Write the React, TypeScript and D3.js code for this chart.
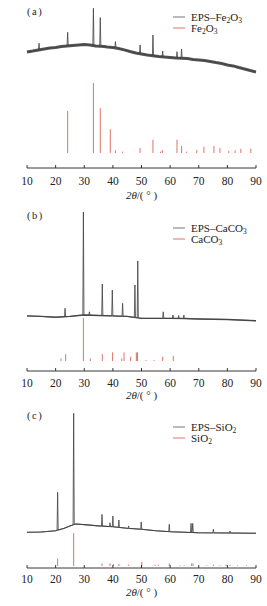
import React from "react";
import * as d3 from "d3";

// 2θ ticks shared by the three panels
const X_TICKS = [10, 20, 30, 40, 50, 60, 70, 80, 90];

// (a) EPS-Fe2O3: background readings [2θ, intensity] and peak tops
const FE_BG: [number, number][] = [
  [10, 72.5], [12, 73.1], [14, 73.8], [16, 74.4], [18, 75], [20, 75.3], [22, 75.9],
  [24, 76.3], [26, 76.6], [28, 76.9], [30, 77.2], [32, 76.9], [34, 76.3], [37, 75.9],
  [38, 75.6], [40, 75.3], [42, 74.7], [44, 73.8], [46, 72.8], [48, 71.9], [50, 71.3],
  [52, 70.6], [56, 69.7], [58, 69.4], [60, 69.1], [62, 68.8], [66, 68.4], [68, 67.8],
  [70, 67.5], [72, 67.2], [74, 66.6], [76, 65.9], [78, 65.3], [80, 64.4], [82, 63.8],
  [84, 62.8], [86, 61.9], [88, 60.9], [90, 60],
];
const FE_PEAKS: [number, number][] = [
  [14.2, 78], [24.2, 84.8], [33.2, 99.8], [35.6, 94], [40.9, 79], [49.5, 76.9],
  [54.0, 83.1], [57.4, 73.1], [62.4, 72.7], [64.0, 74.4],
];
// Fe2O3 reference lines [2θ, relative intensity]
const FE_REF: [number, number][] = [
  [24.2, 60], [33.2, 100], [35.6, 64], [39.1, 34], [40.9, 4], [43.4, 2], [49.5, 7],
  [54.0, 19], [56.6, 2], [57.3, 4], [62.4, 19], [64.0, 10], [65.8, 2], [69.3, 4],
  [71.8, 9], [75.3, 10], [77.4, 7], [80.5, 3], [82.7, 4], [84.7, 6], [88.2, 6],
];

// (b) EPS-CaCO3
const CA_BG: [number, number][] = [
  [10, 34.4], [15, 34.1], [20, 33.6], [25, 34.1], [28, 34.7], [30, 35], [35, 34.7],
  [40, 34.4], [45, 34.1], [50, 32.9], [55, 32.9], [60, 32.9], [65, 32.8], [70, 32.5],
  [80, 32.2], [90, 31.4],
];
const CA_PEAKS: [number, number][] = [
  [23.3, 39.2], [29.7, 99.4], [31.8, 37], [36.3, 54.4], [39.8, 50.6], [43.4, 42.3],
  [47.7, 53.8], [48.7, 68.8], [57.6, 37], [61.0, 35], [63.0, 34.7], [64.8, 35],
];
const CA_REF: [number, number][] = [
  [21.9, 6], [23.5, 16], [29.7, 100], [32.1, 6], [36.3, 16], [39.9, 20], [43.1, 6],
  [43.9, 20], [46.2, 10], [48.2, 20], [48.6, 20], [51.6, 2], [54.4, 2], [57.4, 10],
  [61.1, 12],
];

// (c) EPS-SiO2
const SI_BG: [number, number][] = [
  [10, 22.3], [15, 22.5], [20, 23.3], [23, 24.8], [25, 26.3], [27, 27.5], [30, 27.1],
  [35, 26.3], [40, 25.8], [45, 24.8], [50, 24.2], [55, 23.3], [60, 22.7], [70, 22],
  [80, 21.9], [90, 21.7],
];
const SI_PEAKS: [number, number][] = [
  [20.7, 47.3], [26.3, 96.7], [36.2, 33.5], [39.0, 28.3], [40.0, 32.5], [42.1, 30],
  [45.5, 26.3], [49.9, 28.8], [59.7, 27.3], [67.3, 27.9], [67.9, 27.9], [75.1, 24.2],
  [80.9, 23.1],
];
const SI_REF: [number, number][] = [
  [20.7, 23], [26.3, 100], [36.2, 8], [39.0, 8], [40.2, 6], [42.1, 6], [45.4, 4],
  [50.1, 12], [54.7, 4], [55.9, 4], [59.7, 8], [63.4, 2], [64.9, 2], [67.5, 8],
  [68.0, 8], [72.8, 2], [75.1, 4], [77.4, 2], [79.5, 4], [80.9, 4], [83.5, 2], [86.7, 2],
];

const LEGENDS = [
  ["EPS–Fe_2O_3", "Fe_2O_3"],
  ["EPS–CaCO_3", "CaCO_3"],
  ["EPS–SiO_2", "SiO_2"],
];
const LABELS = ["(a)", "(b)", "(c)"];

const FONT = "Liberation Serif, DejaVu Serif, serif";
const CURVE = "#404040";
const RED = "#e0736a";

const x = d3.scaleLinear().domain([10, 90]).range([27, 256]);

const layout = [
  { axisY: 168, labelY: 14.5, legY: 17, stick: [153, 83], band: 3, tickY: 185, titleY: 199 },
  { axisY: 371, labelY: 218.5, legY: 228, stick: [361, 318], band: 1.3, tickY: 387, titleY: 399 },
  { axisY: 568, labelY: 418.5, legY: 427, stick: [566, 533], band: 1.1, tickY: 583, titleY: 596 },
];

function buildCurve(bg: [number, number][], peaks: [number, number][]) {
  const bgS = d3.scaleLinear().domain(bg.map((d) => d[0])).range(bg.map((d) => d[1]));
  const w = 0.2;
  const pts: [number, number][] = bg.filter(
    (d) => !peaks.some(([p]) => Math.abs(d[0] - p) <= w)
  );
  peaks.forEach(([p, v]) => {
    pts.push([p - w, bgS(p - w)], [p, v], [p + w, bgS(p + w)]);
  });
  return pts.sort((a, b) => a[0] - b[0]);
}

function Formula({ text, x: tx, y }: { text: string; x: number; y: number }) {
  const parts = text.split(/(_\d)/).filter(Boolean);
  return (
    <text x={tx} y={y} fontFamily={FONT} fontSize={11} fill="#222">
      {parts.map((p, i) =>
        p.startsWith("_") ? (
          <tspan key={i} fontSize={7.5} dy={2.5}>
            {p.slice(1)}
          </tspan>
        ) : (
          <tspan key={i} dy={i > 0 ? -2.5 : 0}>
            {p}
          </tspan>
        )
      )}
    </text>
  );
}

function Panel({ i, bg, peaks, refs }: { i: number; bg: [number, number][]; peaks: [number, number][]; refs: [number, number][] }) {
  const L = layout[i];
  const y = d3.scaleLinear().domain([0, 100]).range([L.axisY, L.axisY - 160]);
  const ys = d3.scaleLinear().domain([0, 100]).range(L.stick);
  const line = d3
    .line<[number, number]>()
    .x((d) => x(d[0]))
    .y((d) => y(d[1]));
  const curve = buildCurve(bg, peaks);
  return (
    <g>
      <text x={27} y={L.labelY} fontFamily={FONT} fontSize={10.5} fill="#222" letterSpacing={1.5}>
        {LABELS[i]}
      </text>
      {/* noisy background band */}
      <path d={line(bg) || ""} fill="none" stroke="#555" strokeWidth={L.band} strokeLinejoin="round" />
      <path d={line(curve) || ""} fill="none" stroke={CURVE} strokeWidth={0.8} />
      {refs.map(([p, v], k) => (
        <line key={k} x1={x(p)} x2={x(p)} y1={ys(0)} y2={ys(v)} stroke={RED} strokeWidth={1} />
      ))}
      {/* legend */}
      <line x1={173} x2={185} y1={L.legY} y2={L.legY} stroke="#777" strokeWidth={1} />
      <Formula text={LEGENDS[i][0]} x={191} y={L.legY + 3.5} />
      <line x1={173} x2={185} y1={L.legY + 11} y2={L.legY + 11} stroke={RED} strokeWidth={1} />
      <Formula text={LEGENDS[i][1]} x={191} y={L.legY + 14.5} />
      {/* x axis */}
      <line x1={x(10)} x2={x(90)} y1={L.axisY} y2={L.axisY} stroke="#222" strokeWidth={0.9} />
      {X_TICKS.map((t) => (
        <g key={t}>
          <line x1={x(t)} x2={x(t)} y1={L.axisY} y2={L.axisY - 3} stroke="#222" strokeWidth={0.9} />
          <text x={x(t)} y={L.tickY} textAnchor="middle" fontFamily={FONT} fontSize={11.5} fill="#222">
            {t}
          </text>
        </g>
      ))}
      <text x={x(50)} y={L.titleY} textAnchor="middle" fontFamily={FONT} fontSize={11} fill="#222">
        <tspan fontStyle="italic">2θ</tspan>/( ° )
      </text>
    </g>
  );
}

export default function App() {
  return (
    <div style={{ position: "absolute", left: 0, top: 0 }}>
      <svg width={267} height={606} style={{ display: "block", background: "#fff" }}>
        <Panel i={0} bg={FE_BG} peaks={FE_PEAKS} refs={FE_REF} />
        <Panel i={1} bg={CA_BG} peaks={CA_PEAKS} refs={CA_REF} />
        <Panel i={2} bg={SI_BG} peaks={SI_PEAKS} refs={SI_REF} />
      </svg>
    </div>
  );
}
